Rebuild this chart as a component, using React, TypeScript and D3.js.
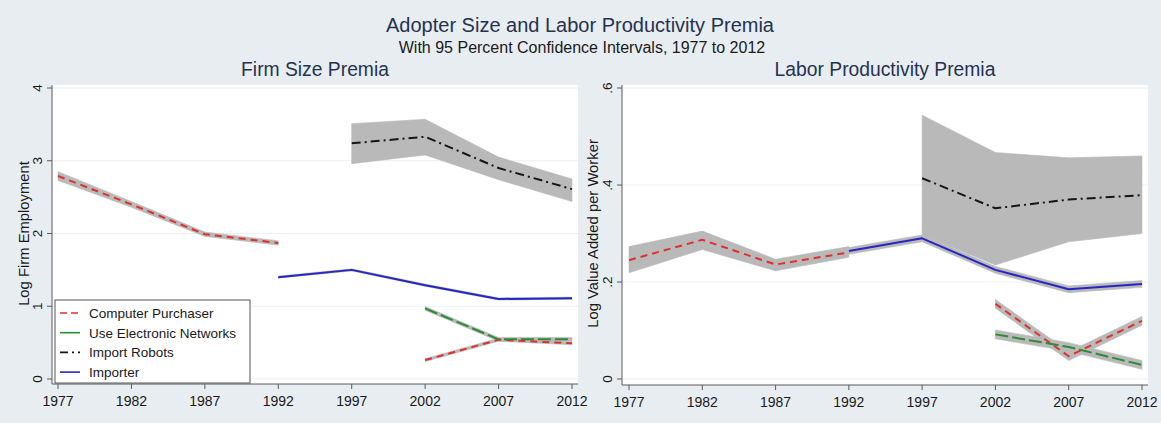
import React from "react";
import * as d3 from "d3";

const years = [1977, 1982, 1987, 1992, 1997, 2002, 2007, 2012];
const xTickLabels = ["1977", "1982", "1987", "1992", "1997", "2002", "2007", "2012"];

// Firm size premia (log firm employment)
const sizeComputer = [2.79, 2.4, 1.99, 1.87, null, 0.26, 0.54, 0.49];
const sizeComputerLo = [2.73, 2.36, 1.96, 1.84, null, 0.24, 0.52, 0.47];
const sizeComputerHi = [2.85, 2.44, 2.02, 1.9, null, 0.28, 0.56, 0.51];
const sizeNetworks = [null, null, null, null, null, 0.97, 0.545, 0.545];
const sizeNetworksLo = [null, null, null, null, null, 0.945, 0.52, 0.52];
const sizeNetworksHi = [null, null, null, null, null, 0.995, 0.57, 0.57];
const sizeRobots = [null, null, null, null, 3.24, 3.33, 2.9, 2.61];
const sizeRobotsLo = [null, null, null, null, 2.96, 3.08, 2.74, 2.44];
const sizeRobotsHi = [null, null, null, null, 3.51, 3.57, 3.05, 2.75];
const sizeImporter = [null, null, null, 1.4, 1.5, 1.29, 1.1, 1.11];
const sizeImporterLo = [null, null, null, 1.385, 1.485, 1.275, 1.085, 1.095];
const sizeImporterHi = [null, null, null, 1.415, 1.515, 1.305, 1.115, 1.125];
const sizeTicks = [0, 1, 2, 3, 4];
const sizeTickLabels = ["0", "1", "2", "3", "4"];

// Labor productivity premia (log value added per worker)
const prodComputer = [0.245, 0.287, 0.236, 0.261, null, 0.155, 0.047, 0.12];
const prodComputerLo = [0.219, 0.267, 0.223, 0.251, null, 0.146, 0.038, 0.111];
const prodComputerHi = [0.273, 0.305, 0.247, 0.273, null, 0.164, 0.056, 0.129];
const prodNetworks = [null, null, null, null, null, 0.092, 0.066, 0.029];
const prodNetworksLo = [null, null, null, null, null, 0.083, 0.057, 0.02];
const prodNetworksHi = [null, null, null, null, null, 0.101, 0.075, 0.038];
const prodRobots = [null, null, null, null, 0.414, 0.352, 0.37, 0.379];
const prodRobotsLo = [null, null, null, null, 0.297, 0.235, 0.283, 0.3];
const prodRobotsHi = [null, null, null, null, 0.544, 0.467, 0.456, 0.46];
const prodImporter = [null, null, null, 0.264, 0.29, 0.225, 0.185, 0.196];
const prodImporterLo = [null, null, null, 0.257, 0.283, 0.218, 0.178, 0.189];
const prodImporterHi = [null, null, null, 0.271, 0.297, 0.232, 0.192, 0.203];
const prodTicks = [0, 0.2, 0.4, 0.6];
const prodTickLabels = ["0", ".2", ".4", ".6"];

const seriesNames = ["Computer Purchaser", "Use Electronic Networks", "Import Robots", "Importer"];

const FONT = "'Liberation Sans', Arial, Helvetica, sans-serif";
const BG = "#e7edf1";
const TITLE = "#26324f";
const BAND = "#b9b9b9";
const AXIS = "#5a5a5a";

const styles = [
  { color: "#e0302c", dash: "7,5", width: 2 },
  { color: "#2e8b36", dash: "13,4", width: 2 },
  { color: "#151515", dash: "9,4,2,4", width: 2 },
  { color: "#2626c4", dash: null, width: 2 },
];

type Arr = (number | null)[];

function Panel(props: {
  x0: number; x1: number; top: number; axisY: number;
  xr: [number, number]; yDomain: [number, number]; yr: [number, number];
  ticks: number[]; tickLabels: string[];
  series: { v: Arr; lo: Arr; hi: Arr }[];
  title: string; yTitle: string; yTitleX: number; tickLabelX: number;
  legend?: boolean;
}) {
  const { x0, x1, top, axisY, ticks, tickLabels, series } = props;
  const x = d3.scaleLinear().domain([1977, 2012]).range(props.xr);
  const y = d3.scaleLinear().domain(props.yDomain).range(props.yr);
  const idx = years.map((_, i) => i);
  const area = (lo: Arr, hi: Arr) =>
    d3.area<number>()
      .defined((i) => lo[i] != null && hi[i] != null)
      .x((i) => x(years[i]))
      .y0((i) => y(lo[i] as number))
      .y1((i) => y(hi[i] as number))(idx) || "";
  const line = (v: Arr) =>
    d3.line<number>()
      .defined((i) => v[i] != null)
      .x((i) => x(years[i]))
      .y((i) => y(v[i] as number))(idx) || "";
  const cx = (x0 + x1) / 2;
  const yMid = (props.yr[0] + props.yr[1]) / 2;
  return (
    <g>
      <rect x={x0} y={top} width={x1 - x0} height={axisY - top} fill="#ffffff" />
      {ticks.map((t) => (
        <line key={"g" + t} x1={x0} x2={x1} y1={y(t)} y2={y(t)} stroke="#eaeff2" strokeWidth={1} />
      ))}
      {series.map((s, k) => (
        <path key={"b" + k} d={area(s.lo, s.hi)} fill={BAND} stroke={BAND} strokeWidth={0.6} />
      ))}
      {series.map((s, k) => (
        <path key={"l" + k} d={line(s.v)} fill="none" stroke={styles[k].color}
          strokeWidth={styles[k].width} strokeDasharray={styles[k].dash || undefined}
          strokeLinejoin="round" />
      ))}
      {/* axes */}
      <line x1={x0} x2={x0} y1={top} y2={axisY} stroke={AXIS} strokeWidth={1} />
      <line x1={x0} x2={x1} y1={axisY} y2={axisY} stroke={AXIS} strokeWidth={1} />
      {ticks.map((t, i) => (
        <g key={"yt" + t}>
          <line x1={x0 - 5} x2={x0} y1={y(t)} y2={y(t)} stroke={AXIS} strokeWidth={1} />
          <text x={props.tickLabelX} y={y(t)} transform={`rotate(-90 ${props.tickLabelX} ${y(t)})`}
            textAnchor="middle" fontFamily={FONT} fontSize={13.5} fill="#1a1a1a">{tickLabels[i]}</text>
        </g>
      ))}
      {years.map((yr, i) => (
        <g key={"xt" + yr}>
          <line x1={x(yr)} x2={x(yr)} y1={axisY} y2={axisY + 5} stroke={AXIS} strokeWidth={1} />
          <text x={x(yr)} y={axisY + 22} textAnchor="middle" fontFamily={FONT} fontSize={14} fill="#1a1a1a">
            {xTickLabels[i]}
          </text>
        </g>
      ))}
      <text x={props.yTitleX} y={yMid} transform={`rotate(-90 ${props.yTitleX} ${yMid})`}
        textAnchor="middle" fontFamily={FONT} fontSize={14.8} fill="#1a1a1a">{props.yTitle}</text>
      <text x={cx} y={76} textAnchor="middle" fontFamily={FONT} fontSize={19.3} fill={TITLE}>{props.title}</text>
      {props.legend && (
        <g>
          <rect x={55} y={300} width={195} height={83} fill="#ffffff" stroke="#555" strokeWidth={1} />
          {seriesNames.map((n, k) => {
            const ly = 313 + k * 19.7;
            return (
              <g key={"lg" + k}>
                <line x1={60} x2={80} y1={ly} y2={ly} stroke={styles[k].color} strokeWidth={1.6}
                  strokeDasharray={k === 0 ? "7,4" : k === 2 ? "8,4,2,4" : undefined} />
                <text x={89} y={ly + 5} fontFamily={FONT} fontSize={13.5} fill="#1a1a1a">{n}</text>
              </g>
            );
          })}
        </g>
      )}
    </g>
  );
}

export default function App() {
  const sizeSeries = [
    { v: sizeComputer, lo: sizeComputerLo, hi: sizeComputerHi },
    { v: sizeNetworks, lo: sizeNetworksLo, hi: sizeNetworksHi },
    { v: sizeRobots, lo: sizeRobotsLo, hi: sizeRobotsHi },
    { v: sizeImporter, lo: sizeImporterLo, hi: sizeImporterHi },
  ];
  const prodSeries = [
    { v: prodComputer, lo: prodComputerLo, hi: prodComputerHi },
    { v: prodNetworks, lo: prodNetworksLo, hi: prodNetworksHi },
    { v: prodRobots, lo: prodRobotsLo, hi: prodRobotsHi },
    { v: prodImporter, lo: prodImporterLo, hi: prodImporterHi },
  ];
  return (
    <svg width={1161} height={423} style={{ position: "absolute", left: 0, top: 0 }}>
      <rect x={0} y={0} width={1161} height={423} fill={BG} />
      <text x={580} y={32} textAnchor="middle" fontFamily={FONT} fontSize={20} fill={TITLE}>
        Adopter Size and Labor Productivity Premia
      </text>
      <text x={582} y={53} textAnchor="middle" fontFamily={FONT} fontSize={16} fill="#1a1a1a">
        With 95 Percent Confidence Intervals, 1977 to 2012
      </text>
      <Panel x0={52} x1={578} top={85} axisY={384} xr={[58, 572]} yDomain={[0, 4]} yr={[379, 88]}
        ticks={sizeTicks} tickLabels={sizeTickLabels} series={sizeSeries}
        title="Firm Size Premia" yTitle="Log Firm Employment" yTitleX={29} tickLabelX={42} legend />
      <Panel x0={622} x1={1148} top={85} axisY={385} xr={[629, 1142]} yDomain={[0, 0.6]} yr={[379, 88]}
        ticks={prodTicks} tickLabels={prodTickLabels} series={prodSeries}
        title="Labor Productivity Premia" yTitle="Log Value Added per Worker" yTitleX={598} tickLabelX={612} />
    </svg>
  );
}
